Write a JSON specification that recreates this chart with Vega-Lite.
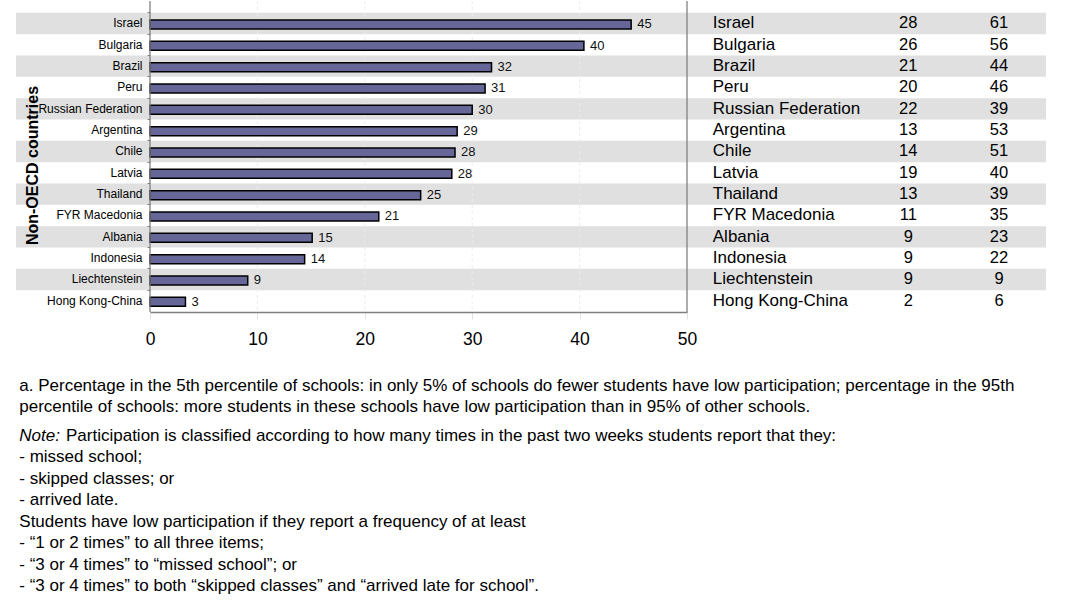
{
  "$schema": "https://vega.github.io/schema/vega-lite/v6.json",
  "padding": {"left": 16, "top": 0, "right": 0, "bottom": 0},
  "background": "white",
  "spacing": 29,
  "config": {"view": {"stroke": null}, "font": "Liberation Sans"},
  "datasets": {
    "rows": [
      {"country": "Israel", "value": 44.8, "p5": 28, "p95": 61},
      {"country": "Bulgaria", "value": 40.4, "p5": 26, "p95": 56},
      {"country": "Brazil", "value": 31.8, "p5": 21, "p95": 44},
      {"country": "Peru", "value": 31.2, "p5": 20, "p95": 46},
      {"country": "Russian Federation", "value": 30.0, "p5": 22, "p95": 39},
      {"country": "Argentina", "value": 28.6, "p5": 13, "p95": 53},
      {"country": "Chile", "value": 28.4, "p5": 14, "p95": 51},
      {"country": "Latvia", "value": 28.1, "p5": 19, "p95": 40},
      {"country": "Thailand", "value": 25.2, "p5": 13, "p95": 39},
      {"country": "FYR Macedonia", "value": 21.3, "p5": 11, "p95": 35},
      {"country": "Albania", "value": 15.1, "p5": 9, "p95": 23},
      {"country": "Indonesia", "value": 14.4, "p5": 9, "p95": 22},
      {"country": "Liechtenstein", "value": 9.1, "p5": 9, "p95": 9},
      {"country": "Hong Kong-China", "value": 3.3, "p5": 2, "p95": 6}
    ],
    "notes": [
      {"line": 0, "text": "a. Percentage in the 5th percentile of schools: in only 5% of schools do fewer students have low participation; percentage in the 95th"},
      {"line": 1, "text": "percentile of schools: more students in these schools have low participation than in 95% of other schools."},
      {"line": 3.32, "text": "\u00a0- missed school;"},
      {"line": 4.32, "text": "\u00a0- skipped classes; or"},
      {"line": 5.32, "text": "\u00a0- arrived late."},
      {"line": 6.32, "text": "Students have low participation if they report a frequency of at least"},
      {"line": 7.32, "text": "\u00a0- “1 or 2 times” to all three items;"},
      {"line": 8.32, "text": "\u00a0- “3 or 4 times” to “missed school”; or"},
      {"line": 9.32, "text": "\u00a0- “3 or 4 times” to both “skipped classes” and “arrived late for school”."}
    ]
  },
  "vconcat": [
    {
      "width": 1030,
      "height": 311,
      "data": {"name": "rows"},
      "layer": [
        {
          "transform": [
            {"window": [{"op": "row_number", "as": "idx"}]},
            {"filter": "datum.idx % 2 === 1"}
          ],
          "mark": {"type": "rect", "color": "#e0e0e0"},
          "encoding": {
            "y": {
              "field": "country",
              "type": "nominal",
              "sort": null,
              "scale": {
                "domain": ["Israel", "Bulgaria", "Brazil", "Peru", "Russian Federation", "Argentina", "Chile", "Latvia", "Thailand", "FYR Macedonia", "Albania", "Indonesia", "Liechtenstein", "Hong Kong-China"],
                "range": [11.8, 310.5],
                "paddingInner": 0,
                "paddingOuter": 0
              },
              "axis": {
                "title": "Non-OECD countries",
                "offset": -134,
                "domain": false,
                "grid": false,
                "ticks": true,
                "bandPosition": 0,
                "tickSize": 3,
                "tickColor": "#808080",
                "labelFontSize": 12,
                "labelColor": "#000000",
                "labelPadding": 5,
                "titleFontSize": 16,
                "titleFontWeight": "bold",
                "titleColor": "#000000",
                "titleAngle": -90,
                "titleX": -112.3,
                "titleY": 164,
                "titleAlign": "center",
                "titleBaseline": "alphabetic"
              }
            }
          }
        },
        {
          "data": {"values": [{"g": 10}, {"g": 20}, {"g": 30}, {"g": 40}]},
          "mark": {"type": "rule", "color": "#ebebeb", "strokeWidth": 1, "strokeDash": [3, 3]},
          "encoding": {"x": {"field": "g", "type": "quantitative"}}
        },
        {
          "mark": {"type": "bar", "color": "#666699", "stroke": "#000000", "strokeWidth": 1.5, "height": 9, "yOffset": 1},
          "encoding": {
            "y": {"field": "country", "type": "nominal", "sort": null},
            "x": {
              "field": "value",
              "type": "quantitative",
              "scale": {"domain": [0, 50], "range": [134, 671], "nice": false},
              "axis": {
                "values": [0, 10, 20, 30, 40, 50],
                "title": null,
                "domainColor": "#808080",
                "domainWidth": 1.3,
                "grid": false,
                "tickColor": "#e2e2e2",
                "tickSize": 7,
                "labelFontSize": 17.5,
                "labelColor": "#000000",
                "labelPadding": 11,
                "labelFlush": false
              }
            }
          }
        },
        {
          "data": {"values": [{"g": 0}, {"g": 50}]},
          "mark": {"type": "rule", "color": "#808080", "strokeWidth": 1.3},
          "encoding": {"x": {"field": "g", "type": "quantitative"}}
        },
        {
          "mark": {"type": "text", "align": "left", "baseline": "middle", "dx": 6, "yOffset": 1, "fontSize": 13, "color": "#111111"},
          "encoding": {
            "y": {"field": "country", "type": "nominal", "sort": null},
            "x": {"field": "value", "type": "quantitative"},
            "text": {"field": "value", "type": "quantitative", "format": ".0f"}
          }
        },
        {
          "mark": {"type": "text", "align": "left", "baseline": "middle", "fontSize": 17, "color": "#000000"},
          "encoding": {
            "y": {"field": "country", "type": "nominal", "sort": null},
            "x": {"datum": 52.4, "type": "quantitative"},
            "text": {"field": "country", "type": "nominal"}
          }
        },
        {
          "mark": {"type": "text", "align": "center", "baseline": "middle", "fontSize": 16.5, "color": "#000000"},
          "encoding": {
            "y": {"field": "country", "type": "nominal", "sort": null},
            "x": {"datum": 70.6, "type": "quantitative"},
            "text": {"field": "p5", "type": "quantitative"}
          }
        },
        {
          "mark": {"type": "text", "align": "center", "baseline": "middle", "fontSize": 16.5, "color": "#000000"},
          "encoding": {
            "y": {"field": "country", "type": "nominal", "sort": null},
            "x": {"datum": 79.05, "type": "quantitative"},
            "text": {"field": "p95", "type": "quantitative"}
          }
        }
      ]
    },
    {
      "width": 1030,
      "height": 200,
      "encoding": {
        "y": {"field": "line", "type": "quantitative", "scale": {"domain": [0, 9.32], "range": [0, 200]}, "axis": null}
      },
      "layer": [
        {
          "data": {"name": "notes"},
          "mark": {"type": "text", "align": "left", "baseline": "middle", "x": 3.3, "fontSize": 17, "color": "#000000"},
          "encoding": {"text": {"field": "text", "type": "nominal"}}
        },
        {
          "data": {"values": [{"line": 2.32, "text": "Note:"}]},
          "mark": {"type": "text", "align": "left", "baseline": "middle", "x": 3.3, "fontSize": 17, "fontStyle": "italic", "color": "#000000"},
          "encoding": {"text": {"field": "text", "type": "nominal"}}
        },
        {
          "data": {"values": [{"line": 2.32, "text": "Participation is classified according to how many times in the past two weeks students report that they:"}]},
          "mark": {"type": "text", "align": "left", "baseline": "middle", "x": 50, "fontSize": 17, "color": "#000000"},
          "encoding": {"text": {"field": "text", "type": "nominal"}}
        }
      ]
    }
  ]
}
